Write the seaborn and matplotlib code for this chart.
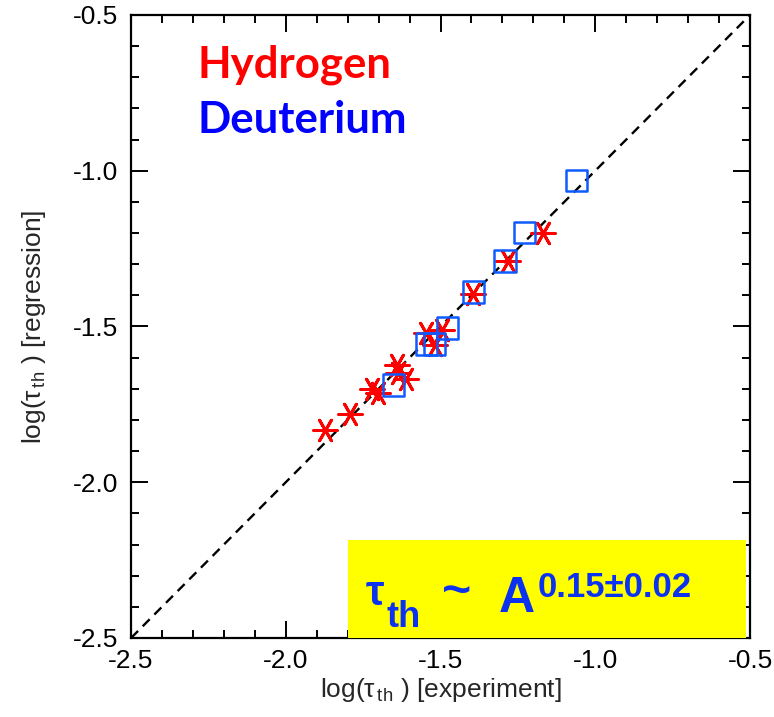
import numpy as np
import pandas as pd
import matplotlib
matplotlib.use("Agg")
import matplotlib.pyplot as plt
from matplotlib.patches import Rectangle
from matplotlib.ticker import MultipleLocator
import seaborn as sns

# log10 of thermal confinement time: measured vs. regression fit
hydrogen_exp = [-1.873, -1.792, -1.722, -1.702, -1.642, -1.638, -1.610,
                -1.547, -1.519, -1.496, -1.396, -1.283, -1.168]
hydrogen_reg = [-1.832, -1.781, -1.700, -1.713, -1.625, -1.650, -1.670,
                -1.520, -1.559, -1.512, -1.396, -1.289, -1.201]
deuterium_exp = [-1.652, -1.545, -1.519, -1.478, -1.394, -1.292, -1.229, -1.060]
deuterium_reg = [-1.688, -1.556, -1.556, -1.505, -1.390, -1.289, -1.198, -1.032]

axis_limits = [-2.5, -0.5]
major_ticks = [-2.5, -2.0, -1.5, -1.0, -0.5]
tick_labels = ["-2.5", "-2.0", "-1.5", "-1.0", "-0.5"]

sns.set_theme(style="white")
plt.rcParams["font.family"] = ["Liberation Sans", "DejaVu Sans"]
plt.rcParams["mathtext.fontset"] = "custom"
plt.rcParams["mathtext.rm"] = "Liberation Sans"
plt.rcParams["mathtext.it"] = "Liberation Sans"
plt.rcParams["mathtext.bf"] = "Liberation Sans:bold"

fig = plt.figure(figsize=(7.74, 7.17), dpi=100)
ax = fig.add_axes([0.1693, 0.1102, 0.7997, 0.8689])

# identity line
ax.plot(axis_limits, axis_limits, color="black", lw=1.7,
        dashes=(4.2, 2.8), zorder=1)

hyd = pd.DataFrame({"exp": hydrogen_exp, "reg": hydrogen_reg})
deu = pd.DataFrame({"exp": deuterium_exp, "reg": deuterium_reg})

sns.scatterplot(data=hyd, x="exp", y="reg", ax=ax, marker=(6, 2, 90),
                s=290, color="#ff0000", linewidth=2.1, zorder=3)
sns.scatterplot(data=deu, x="exp", y="reg", ax=ax, marker="s",
                s=240, color="#0d5bff", linewidth=1.8, zorder=4)
ax.collections[-1].set_facecolor("none")
ax.collections[-1].set_edgecolor("#0d5bff")

ax.set_xlim(axis_limits)
ax.set_ylim(axis_limits)
ax.set_xticks(major_ticks)
ax.set_xticklabels(tick_labels)
ax.set_yticks(major_ticks)
ax.set_yticklabels(tick_labels)
ax.xaxis.set_minor_locator(MultipleLocator(0.1))
ax.yaxis.set_minor_locator(MultipleLocator(0.1))
ax.tick_params(which="both", direction="in", top=True, right=True,
               bottom=True, left=True, color="black", width=1.4,
               labelsize=19, labelcolor="black")
ax.tick_params(axis="x", pad=8)
ax.tick_params(axis="y", pad=9)
ax.tick_params(which="major", length=12)
ax.tick_params(which="minor", length=6)
for sp in ax.spines.values():
    sp.set_color("black")
    sp.set_linewidth(1.6)

ax.set_xlabel(r"log($\tau_{\,\rm th}$ ) [experiment]", fontsize=19, labelpad=2)
ax.set_ylabel(r"log($\tau_{\,\rm th}$ ) [regression]", fontsize=19, labelpad=18)

# species legend
ax.text(0.108, 0.899, "Hydrogen", transform=ax.transAxes, color="#ff0000",
        fontsize=31.5, fontweight="bold", family=["Lato", "DejaVu Sans"],
        va="baseline", ha="left")
ax.text(0.108, 0.8106, "Deuterium", transform=ax.transAxes, color="#0000ff",
        fontsize=31.5, fontweight="bold", family=["Lato", "DejaVu Sans"],
        va="baseline", ha="left")

# scaling-law box
ax.add_patch(Rectangle((0.351, 0.0), 0.643, 0.157, transform=ax.transAxes,
                       facecolor="#ffff00", edgecolor="none", zorder=5))
eq_color = "#0a32f0"
ax.text(0.3796, 0.053, "τ", transform=ax.transAxes, color=eq_color,
        fontsize=30, fontweight="bold", va="baseline", ha="left", zorder=6)
ax.text(0.412, 0.0177, "th", transform=ax.transAxes, color=eq_color,
        fontsize=26, fontweight="bold", va="baseline", ha="left", zorder=6)
ax.text(0.502, 0.0722, "~", transform=ax.transAxes, color=eq_color,
        fontsize=36, fontweight="bold", va="center", ha="left", zorder=6)
ax.text(0.5945, 0.0417, "A", transform=ax.transAxes, color=eq_color,
        fontsize=36, fontweight="bold", va="baseline", ha="left", zorder=6)
ax.text(0.6575, 0.0658, "0.15±0.02", transform=ax.transAxes, color=eq_color,
        fontsize=25, fontweight="bold", va="baseline", ha="left", zorder=6)

fig.savefig("out.png", dpi=100, facecolor="white")
